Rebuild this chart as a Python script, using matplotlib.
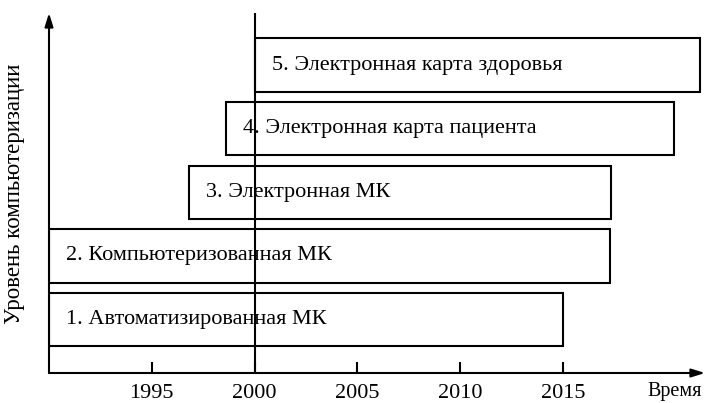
import numpy as np
import matplotlib
matplotlib.use('Agg')
import matplotlib.pyplot as plt

plt.rcParams['font.family'] = ['Liberation Serif', 'DejaVu Serif']

# ------------------------------------------
# data
# ------------------------------------------
labels = ['1. Автоматизированная МК',
          '2. Компьютеризованная МК',
          '3. Электронная МК',
          '4. Электронная карта пациента',
          '5. Электронная карта здоровья']
levels = [1, 2, 3, 4, 5]
start = [1990, 1990, 1996.8, 1998.6, 2000]
end = [2015, 2017.3, 2017.35, 2020.4, 2021.65]
years = [1995, 2000, 2005, 2010, 2015]
marker_year = 2000

fig = plt.figure(figsize=(7.07, 4.03), dpi=100)
ax = fig.add_axes([49 / 707, 30 / 403, (705 - 49) / 707, (373 - 13) / 403])

ax.set_xlim(1990, 2021.9)
ax.set_ylim(0.16, 5.82)

widths = np.array(end) - np.array(start)
ax.barh(levels, widths, left=start, height=0.84, color='white',
        edgecolor='black', linewidth=1.5, zorder=2)

ax.axvline(marker_year, color='black', lw=1.5, zorder=3)

for lv, s, lab in zip(levels, start, labels):
    ax.text(s + 0.85, lv, lab, ha='left', va='center', fontsize=16, zorder=4)

# axes with arrows
for sp in ax.spines.values():
    sp.set_visible(False)
ax.annotate('', xy=(1, 0), xytext=(0, 0), xycoords='axes fraction',
            arrowprops=dict(arrowstyle='-|>,head_length=0.8,head_width=0.25',
                            lw=1.5, color='black', shrinkA=0, shrinkB=0))
ax.annotate('', xy=(0, 1), xytext=(0, 0), xycoords='axes fraction',
            arrowprops=dict(arrowstyle='-|>,head_length=0.8,head_width=0.25',
                            lw=1.5, color='black', shrinkA=0, shrinkB=0))

ax.set_xticks(years)
ax.set_xticklabels([str(y) for y in years])
ax.tick_params(axis='x', direction='in', length=8, width=1.5, labelsize=16, pad=8)
ax.set_yticks([])

ax.text(0.995, -0.052, 'Время', transform=ax.transAxes, ha='right',
        va='center', fontsize=14.5)
fig.text(15 / 707, 0.52, 'Уровень компьютеризации', rotation=90,
         ha='center', va='center', fontsize=16.5)

plt.savefig('out.png', dpi=100)
